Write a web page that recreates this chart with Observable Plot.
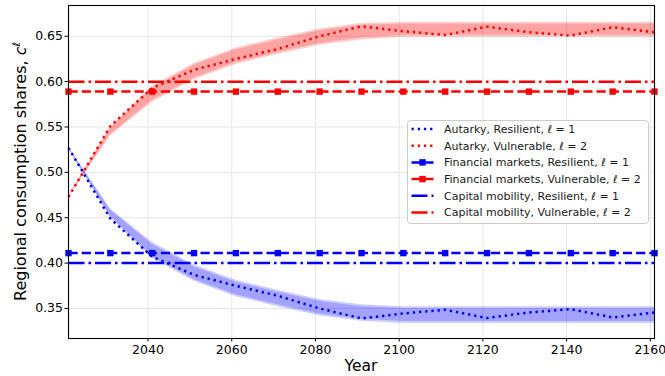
<!DOCTYPE html>
<html>
<head>
<meta charset="utf-8">
<script src="https://cdn.jsdelivr.net/npm/d3@7"></script>
<script src="https://cdn.jsdelivr.net/npm/@observablehq/plot@0.6"></script>
<style>
  html, body { margin: 0; padding: 0; background: #ffffff; }
  #chart { width: 665px; height: 376px; }
</style>
</head>
<body>
<div id="chart"></div>
<script>
// ---- data ----
const years = [2021, 2031, 2041, 2051, 2061, 2071, 2081, 2091, 2101, 2111, 2121, 2131, 2141, 2151, 2161];

const autarkyResilient  = [0.527, 0.449, 0.407, 0.387, 0.375, 0.364, 0.350, 0.339, 0.3445, 0.3486, 0.3394, 0.3456, 0.3493, 0.340, 0.3456];
const autarkyVulnerable = [0.473, 0.551, 0.593, 0.613, 0.625, 0.636, 0.650, 0.661, 0.6555, 0.6514, 0.6606, 0.6544, 0.6507, 0.660, 0.6544];

// uncertainty bands around autarky paths (outer and inner)
const resilientOuterLo = [0.526, 0.450, 0.405, 0.380, 0.363, 0.352, 0.342, 0.336, 0.3335, 0.3335, 0.3335, 0.3335, 0.3335, 0.3335, 0.3335];
const resilientOuterHi = [0.528, 0.460, 0.423, 0.398, 0.381, 0.370, 0.360, 0.354, 0.352, 0.352, 0.352, 0.352, 0.352, 0.352, 0.352];
const resilientInnerLo = [0.5265, 0.4515, 0.4075, 0.382, 0.365, 0.354, 0.344, 0.338, 0.3357, 0.3357, 0.3357, 0.3357, 0.3357, 0.3357, 0.3357];
const resilientInnerHi = [0.5275, 0.4585, 0.4205, 0.396, 0.379, 0.368, 0.358, 0.352, 0.350, 0.350, 0.350, 0.350, 0.350, 0.350, 0.350];

const vulnerableOuterLo = [0.472, 0.540, 0.577, 0.602, 0.619, 0.630, 0.640, 0.646, 0.649, 0.649, 0.649, 0.649, 0.649, 0.649, 0.649];
const vulnerableOuterHi = [0.474, 0.550, 0.595, 0.620, 0.637, 0.648, 0.658, 0.664, 0.6655, 0.6655, 0.6655, 0.6655, 0.6655, 0.6655, 0.6655];
const vulnerableInnerLo = [0.4725, 0.5415, 0.5795, 0.604, 0.621, 0.632, 0.642, 0.648, 0.651, 0.651, 0.651, 0.651, 0.651, 0.651, 0.651];
const vulnerableInnerHi = [0.4735, 0.5485, 0.5925, 0.618, 0.635, 0.646, 0.656, 0.662, 0.6635, 0.6635, 0.6635, 0.6635, 0.6635, 0.6635, 0.6635];

const financialResilient  = 0.411;
const financialVulnerable = 0.589;
const capitalResilient    = 0.400;
const capitalVulnerable   = 0.600;

const xTicks = [2040, 2060, 2080, 2100, 2120, 2140, 2160];
const yTicks = [0.35, 0.40, 0.45, 0.50, 0.55, 0.60, 0.65];

const legendLabels = [
  ["Autarky, Resilient, ", "1"],
  ["Autarky, Vulnerable, ", "2"],
  ["Financial markets, Resilient, ", "1"],
  ["Financial markets, Vulnerable, ", "2"],
  ["Capital mobility, Resilient, ", "1"],
  ["Capital mobility, Vulnerable, ", "2"]
];
const xLabel = "Year";
const yLabel = "Regional consumption shares, ";

// ---- tables ----
const rows = years.map((year, i) => ({
  year,
  ar: autarkyResilient[i], av: autarkyVulnerable[i],
  roLo: resilientOuterLo[i], roHi: resilientOuterHi[i],
  riLo: resilientInnerLo[i], riHi: resilientInnerHi[i],
  voLo: vulnerableOuterLo[i], voHi: vulnerableOuterHi[i],
  viLo: vulnerableInnerLo[i], viHi: vulnerableInnerHi[i],
  fr: financialResilient, fv: financialVulnerable,
  cr: capitalResilient, cv: capitalVulnerable
}));

const BLUE = "#0000ff", RED = "#ff0000";
const LW = 2.5;
const DOT = "2.3,3.9", DASH = "9.2,4", DASHDOT = "16,4,2.5,4";
const lineOpts = { strokeWidth: LW, strokeLinecap: "butt", strokeLinejoin: "round" };

const chart = Plot.plot({
  width: 665,
  height: 376,
  marginLeft: 68,
  marginRight: 11,
  marginTop: 5,
  marginBottom: 38,
  style: { fontFamily: "DejaVu Sans", fontSize: "12.5px", color: "black", background: "white", overflow: "visible" },
  x: { domain: [2021, 2161], ticks: xTicks, tickFormat: d => String(d), tickSize: 3.5, tickPadding: 3.5, label: null },
  y: { domain: [0.3169, 0.6839], ticks: yTicks, tickFormat: d => d.toFixed(2), tickSize: 3.5, tickPadding: 2, label: null },
  marks: [
    Plot.ruleX(xTicks, { x: d => d, stroke: "#e6e6e6", strokeWidth: 1 }),
    Plot.ruleY(yTicks, { y: d => d, stroke: "#e6e6e6", strokeWidth: 1 }),
    Plot.areaY(rows, { x: "year", y1: "roLo", y2: "roHi", fill: BLUE, fillOpacity: 0.2 }),
    Plot.areaY(rows, { x: "year", y1: "riLo", y2: "riHi", fill: BLUE, fillOpacity: 0.2 }),
    Plot.areaY(rows, { x: "year", y1: "voLo", y2: "voHi", fill: RED, fillOpacity: 0.2 }),
    Plot.areaY(rows, { x: "year", y1: "viLo", y2: "viHi", fill: RED, fillOpacity: 0.2 }),
    Plot.line(rows, { x: "year", y: "ar", stroke: BLUE, strokeDasharray: DOT, ...lineOpts }),
    Plot.line(rows, { x: "year", y: "av", stroke: RED, strokeDasharray: DOT, ...lineOpts }),
    Plot.line(rows, { x: "year", y: "fr", stroke: BLUE, strokeDasharray: DASH, ...lineOpts }),
    Plot.dot(rows, { x: "year", y: "fr", symbol: "square", r: 3.6, fill: BLUE, stroke: null }),
    Plot.line(rows, { x: "year", y: "fv", stroke: RED, strokeDasharray: DASH, ...lineOpts }),
    Plot.dot(rows, { x: "year", y: "fv", symbol: "square", r: 3.6, fill: RED, stroke: null }),
    Plot.line(rows, { x: "year", y: "cr", stroke: BLUE, strokeDasharray: DASHDOT, ...lineOpts }),
    Plot.line(rows, { x: "year", y: "cv", stroke: RED, strokeDasharray: DASHDOT, ...lineOpts }),
    Plot.frame({ stroke: "black", strokeWidth: 1.1 })
  ]
});

document.getElementById("chart").appendChild(chart);

// ---- axis labels and legend (text as SVG text) ----
const svg = d3.select(chart);

svg.append("text")
  .attr("x", 361).attr("y", 371)
  .attr("text-anchor", "middle")
  .attr("font-family", "DejaVu Sans").attr("font-size", "15.5px").attr("fill", "black")
  .text(xLabel);

const yl = svg.append("text")
  .attr("transform", "translate(26,171.5) rotate(-90)")
  .attr("text-anchor", "middle")
  .attr("font-family", "DejaVu Sans").attr("font-size", "16px").attr("fill", "black");
yl.append("tspan").text(yLabel);
yl.append("tspan").attr("font-style", "italic").text("c");
yl.append("tspan").attr("font-style", "italic").attr("font-size", "11px").attr("dy", "-0.55em").text("ℓ");

const lg = svg.append("g").attr("transform", "translate(407.5,120.5)");
lg.append("rect")
  .attr("width", 241).attr("height", 103).attr("rx", 3)
  .attr("fill", "white").attr("fill-opacity", 0.8)
  .attr("stroke", "#cccccc").attr("stroke-width", 1);

const styles = [
  { c: BLUE, d: DOT, m: false }, { c: RED, d: DOT, m: false },
  { c: BLUE, d: DASH, m: true }, { c: RED, d: DASH, m: true },
  { c: BLUE, d: DASHDOT, m: false }, { c: RED, d: DASHDOT, m: false }
];
legendLabels.forEach((lab, i) => {
  const cy = 8.5 + i * 16.7;
  const s = styles[i];
  lg.append("line")
    .attr("x1", 4).attr("x2", 26).attr("y1", cy).attr("y2", cy)
    .attr("stroke", s.c).attr("stroke-width", LW).attr("stroke-dasharray", s.d)
    .attr("stroke-linecap", "butt");
  if (s.m) {
    lg.append("rect").attr("x", 15 - 3.2).attr("y", cy - 3.2).attr("width", 6.4).attr("height", 6.4).attr("fill", s.c);
  }
  const t = lg.append("text")
    .attr("x", 36.5).attr("y", cy).attr("dy", "0.35em")
    .attr("text-anchor", "start")
    .attr("font-family", "DejaVu Sans").attr("font-size", "11px").attr("fill", "#1a1a1a");
  t.append("tspan").text(lab[0]);
  t.append("tspan").attr("font-style", "italic").text("ℓ");
  t.append("tspan").text(" = " + lab[1]);
});
</script>
</body>
</html>
